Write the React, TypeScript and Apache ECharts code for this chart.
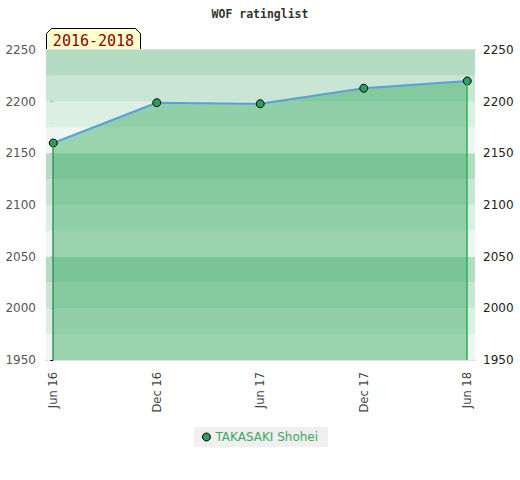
import React, { useEffect, useRef } from "react";
import * as echarts from "echarts";

const categories = ["Jun 16", "Dec 16", "Jun 17", "Dec 17", "Jun 18"];
const ratings = [2160, 2199, 2198, 2213, 2220];
const seriesName = "TAKASAKI Shohei";
const bandEdges = [1950, 1975, 2000, 2025, 2050, 2075, 2100, 2125, 2150, 2175, 2200, 2225, 2250];
const bandColors = ["#eef7f1", "#dcefe3", "#c8e6d3", "#b3dcc3"];
const yMin = 1950;
const yMax = 2250;

export default function App() {
  const ref = useRef<HTMLDivElement>(null);
  useEffect(() => {
    if (!ref.current) return;
    const chart = echarts.init(ref.current, undefined, { renderer: "svg" });
    const points = ratings.map((v, i) => [i, v]);
    const bands = bandEdges.slice(0, -1).map((lo, i) => [
      { yAxis: lo, itemStyle: { color: bandColors[i % 4], opacity: 1 } },
      { yAxis: bandEdges[i + 1] },
    ]);
    const last = ratings.length - 1;
    chart.setOption({
      animation: false,
      title: {
        text: "WOF ratinglist",
        left: "center",
        top: 3,
        textStyle: { fontFamily: "DejaVu Sans Mono", fontSize: 11.5, fontWeight: "bold", color: "#333" },
      },
      grid: { left: 46, right: 45, top: 50, bottom: 120 },
      legend: {
        bottom: 33,
        left: "center",
        backgroundColor: "#f0f0f0",
        padding: [4, 10, 4, 8],
        itemWidth: 8,
        itemHeight: 8,
        itemGap: 6,
        textStyle: { color: "#3aa860", fontFamily: "DejaVu Sans", fontSize: 12 },
        data: [{ name: seriesName, icon: "circle", itemStyle: { color: "#2e9e5b", borderColor: "#000", borderWidth: 1 } }],
      },
      xAxis: [
        {
          type: "value",
          min: -0.07,
          max: 4.075,
          axisLine: { show: true, lineStyle: { color: "#dddddd", width: 2 } },
          axisTick: { show: false },
          splitLine: { show: false },
          axisLabel: {
            customValues: categories.map((_, i) => i),
            formatter: (v: number) => categories[Math.round(v)] ?? "",
            rotate: 90,
            margin: 12,
            color: "#444",
            fontFamily: "DejaVu Sans",
            fontSize: 11.5,
          },
        },
        {
          type: "value",
          position: "top",
          min: -0.07,
          max: 4.075,
          axisLine: { show: true, lineStyle: { color: "#dddddd", width: 2 } },
          axisTick: { show: false },
          axisLabel: { show: false },
          splitLine: { show: false },
        },
      ],
      yAxis: [
        {
          type: "value",
          position: "left",
          min: yMin,
          max: yMax,
          interval: 50,
          axisLine: { show: true, lineStyle: { color: "#dddddd", width: 2 } },
          axisTick: { show: false },
          splitLine: { show: false },
          axisLabel: { color: "#555", fontFamily: "DejaVu Sans", fontSize: 12, margin: 10, formatter: (v: number) => String(v) },
        },
        {
          type: "value",
          position: "right",
          min: yMin,
          max: yMax,
          interval: 50,
          axisLine: { show: false },
          axisTick: { show: true, inside: true, length: 3, lineStyle: { color: "#000" } },
          minorTick: { show: true, splitNumber: 5, length: 3, lineStyle: { color: "#000" } },
          splitLine: { show: false },
          axisLabel: { color: "#222", fontFamily: "DejaVu Sans", fontSize: 12, margin: 8, formatter: (v: number) => String(v) },
        },
      ],
      series: [
        {
          type: "line",
          name: "bands",
          data: [],
          z: 0,
          silent: true,
          markArea: { silent: true, data: bands },
        },
        {
          type: "line",
          name: seriesName,
          data: points,
          z: 3,
          symbol: "circle",
          symbolSize: 8,
          itemStyle: { color: "#2e9e5b", borderColor: "#000", borderWidth: 1 },
          lineStyle: { color: "#5aa0d8", width: 2 },
          areaStyle: { color: "rgba(55,170,97,0.46)", opacity: 1, origin: "start" },
          markLine: {
            silent: true,
            symbol: "none",
            label: { show: false },
            data: [
              [
                { coord: [0, ratings[0]], lineStyle: { color: "#3a9060", width: 1.5, type: "solid" } },
                { coord: [0, yMin] },
              ],
              [
                { coord: [last, ratings[last]], lineStyle: { color: "#2db35a", width: 1.5, type: "solid" } },
                { coord: [last, yMin] },
              ],
            ],
          },
        },
      ],
      graphic: [
        {
          type: "group",
          left: 46,
          top: 28,
          z: 10,
          children: [
            {
              type: "polygon",
              shape: { points: [[0, 22], [0, 5], [5, 0], [89, 0], [94, 5], [94, 22]] },
              style: { fill: "#ffffcc", stroke: "#000", lineWidth: 1 },
            },
            {
              type: "text",
              x: 47,
              y: 12,
              style: {
                text: "2016-2018",
                fill: "#8b0000",
                font: "15px 'DejaVu Sans Mono'",
                align: "center",
                verticalAlign: "middle",
              },
            },
          ],
        },
      ],
    });
    return () => chart.dispose();
  }, []);
  return <div ref={ref} style={{ position: "absolute", left: 0, top: 0, width: 520, height: 480 }} />;
}
